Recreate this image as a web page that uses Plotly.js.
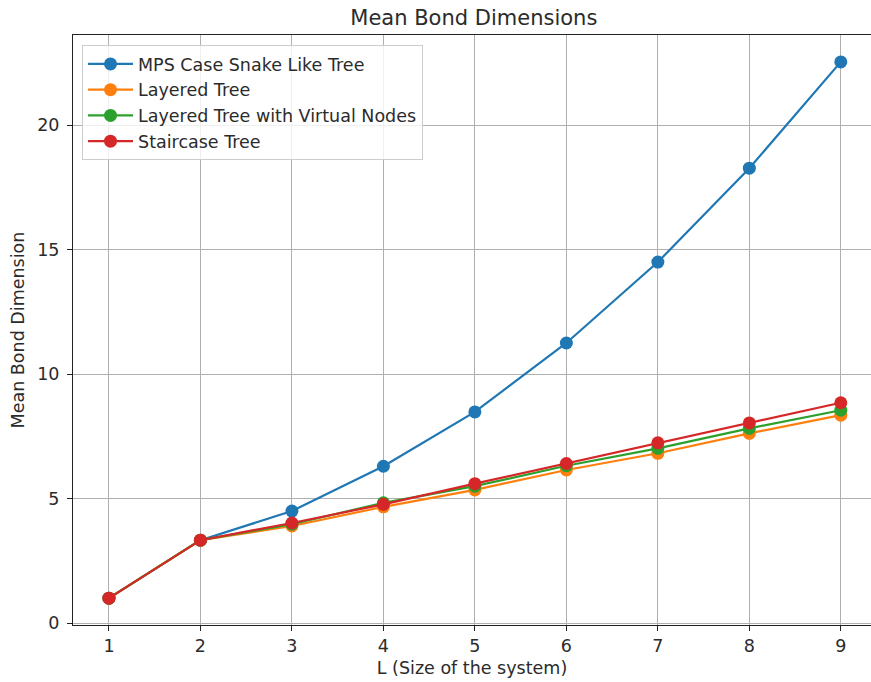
<!DOCTYPE html>
<html>
<head>
<meta charset="utf-8">
<script src="https://cdn.plot.ly/plotly-3.0.1.min.js"></script>
<style>html,body{margin:0;padding:0;background:#fff;}#chart{width:871px;height:682px;}</style>
</head>
<body>
<div id="chart"></div>
<script>
const L = [1, 2, 3, 4, 5, 6, 7, 8, 9];
const mpsSnake = [1.0, 3.33, 4.5, 6.3, 8.48, 11.25, 14.5, 18.27, 22.54];
const layered = [1.0, 3.33, 3.9, 4.67, 5.35, 6.15, 6.82, 7.62, 8.35];
const layeredVirtual = [1.0, 3.33, 3.97, 4.83, 5.5, 6.32, 7.02, 7.82, 8.55];
const staircase = [1.0, 3.33, 4.02, 4.77, 5.6, 6.41, 7.24, 8.04, 8.85];
const seriesNames = ["MPS Case Snake Like Tree", "Layered Tree", "Layered Tree with Virtual Nodes", "Staircase Tree"];
const colors = ["#1f77b4", "#ff7f0e", "#2ca02c", "#d62728"];
const seriesData = [mpsSnake, layered, layeredVirtual, staircase];

const traces = seriesData.map((ys, i) => ({
  x: L, y: ys, name: seriesNames[i], type: "scatter", mode: "lines+markers",
  line: {color: colors[i], width: 2.2},
  marker: {color: colors[i], size: 13}
}));

const fam = "DejaVu Sans, sans-serif";
const layout = {
  width: 871, height: 682,
  margin: {l: 73, r: 0, t: 35, b: 57},
  paper_bgcolor: "#fff", plot_bgcolor: "#fff",
  font: {family: fam, size: 17.5, color: "#2b2b2b"},
  title: {text: "Mean Bond Dimensions", font: {family: fam, size: 21, color: "#2b2b2b"}, x: 0.544, xanchor: "center", y: 0.974, yanchor: "middle"},
  xaxis: {
    range: [0.607, 9.33], tickvals: L, ticktext: L.map(String),
    showgrid: true, gridcolor: "#b0b0b0", gridwidth: 1,
    showline: true, linecolor: "#222", linewidth: 1, mirror: true,
    ticks: "outside", ticklen: 5, tickcolor: "#222", zeroline: false,
    tickfont: {size: 17.5},
    title: {text: "L (Size of the system)", font: {size: 17.5}, standoff: 6}
  },
  yaxis: {
    range: [-0.077, 23.62], tickvals: [0, 5, 10, 15, 20],
    showgrid: true, gridcolor: "#b0b0b0", gridwidth: 1,
    showline: true, linecolor: "#222", linewidth: 1, mirror: true,
    ticks: "outside", ticklen: 5, tickcolor: "#222", zeroline: false,
    tickfont: {size: 17.5}, ticklabelstandoff: 4,
    title: {text: "Mean Bond Dimension", font: {size: 17.5}, standoff: 8}
  },
  legend: {
    x: 0.0113, y: 0.983, xanchor: "left", yanchor: "top",
    bgcolor: "rgba(255,255,255,0.8)", bordercolor: "#cccccc", borderwidth: 1,
    font: {family: fam, size: 17.5, color: "#2b2b2b"},
    itemwidth: 45, tracegroupgap: 0
  },
  showlegend: true
};
Plotly.newPlot("chart", traces, layout, {displayModeBar: false, staticPlot: true});
</script>
</body>
</html>
